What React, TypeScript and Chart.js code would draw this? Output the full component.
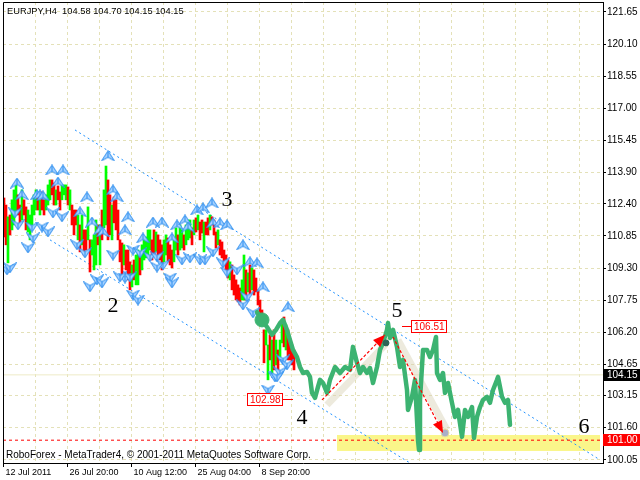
import React, { useEffect, useRef } from 'react';
import { Chart, registerables } from 'chart.js';

Chart.register(...registerables);

// ---------- texts ----------
const symbolTitle = 'EURJPY,H4  104.58 104.70 104.15 104.15';
const footerText = 'RoboForex - MetaTrader4, \u00A9 2001-2011 MetaQuotes Software Corp.';

// ---------- axes ----------
const xTickBars = [0, 64, 128, 192, 256];
const xTickLabels = ['12 Jul 2011', '26 Jul 20:00', '10 Aug 12:00', '25 Aug 04:00', '8 Sep 20:00'];
const xGridBars = [0, 32, 64, 96, 128, 160, 192, 224, 256, 288, 320, 352, 384, 416, 448, 480, 512, 544, 576];
const yTickValues = [121.65, 120.1, 118.55, 117.0, 115.45, 113.9, 112.4, 110.85, 109.3, 107.75, 106.2, 104.65, 103.15, 101.6, 100.05];

// ---------- H4 candles (one every 2 bars, starting at bar 1) ----------
const candleHigh = [
  112.68, 112.34, 111.77, 111.86, 112.59, 113.07, 113.31, 112.83, 112.34, 113.07,
  112.59, 112.25, 112.10, 111.86, 112.34, 112.83, 113.07, 112.83, 112.59, 112.97,
  112.59, 112.83, 113.31, 113.55, 113.55, 113.40, 113.07, 113.26, 112.97, 113.31,
  113.31, 113.31, 113.21, 113.07, 112.34, 112.10, 112.10, 111.86, 111.38, 111.86,
  111.14, 111.14, 112.25, 110.66, 110.66, 110.90, 111.62, 111.38, 111.38, 112.10,
  113.07, 114.22, 113.55, 112.83, 112.34, 112.73, 112.59, 112.10, 110.66, 110.51,
  110.42, 110.17, 110.17, 109.60, 109.45, 109.69, 109.93, 110.17, 110.08, 110.42,
  110.66, 110.80, 111.14, 111.14, 110.66, 111.14, 111.04, 110.90, 110.66, 110.42,
  110.66, 110.90, 110.75, 110.42, 110.17, 110.66, 111.24, 110.90, 111.38, 111.14,
  110.90, 111.38, 111.62, 111.62, 111.24, 111.62, 111.72, 111.86, 111.52, 111.62,
  111.52, 111.52, 111.72, 111.86, 111.77, 111.62, 111.04, 111.14, 110.66, 110.56,
  110.17, 109.93, 109.69, 109.60, 109.45, 108.97, 108.73, 108.49, 108.34, 108.73,
  109.93, 109.21, 109.07, 109.45, 109.31, 109.21, 108.82, 108.25, 107.76, 107.28,
  106.32, 106.32, 105.59, 106.08, 105.83, 106.32, 105.83, 105.35, 105.83, 106.65,
  106.94, 106.56, 106.32, 105.83, 105.59, 105.35,
];
const candleLow = [
  110.80, 110.42, 109.55, 110.90, 111.14, 111.38, 111.86, 111.86, 111.38, 111.62,
  111.86, 111.14, 111.04, 110.66, 111.38, 111.86, 112.10, 112.10, 111.86, 112.10,
  111.86, 112.10, 112.34, 112.59, 112.83, 112.34, 112.34, 112.59, 112.10, 112.59,
  112.83, 112.59, 112.34, 112.10, 111.38, 110.90, 111.38, 110.66, 110.08, 110.42,
  109.93, 110.17, 110.66, 109.11, 109.93, 109.21, 109.45, 110.42, 109.45, 110.66,
  111.24, 111.38, 110.66, 110.90, 110.66, 111.48, 111.14, 110.66, 109.60, 108.97,
  109.45, 109.21, 108.73, 108.25, 108.39, 108.73, 108.49, 108.49, 108.97, 109.21,
  109.69, 109.79, 109.93, 110.17, 109.69, 109.93, 110.08, 109.93, 109.69, 109.21,
  109.60, 109.93, 109.60, 109.45, 109.31, 109.60, 110.17, 109.93, 110.17, 110.27,
  110.17, 110.42, 110.66, 110.75, 110.42, 110.90, 111.04, 111.14, 110.66, 110.99,
  110.08, 110.90, 110.90, 111.14, 111.38, 110.90, 110.27, 110.42, 109.93, 109.79,
  109.45, 109.21, 108.82, 108.73, 108.25, 108.00, 107.76, 107.67, 107.52, 107.76,
  107.76, 107.76, 108.15, 108.00, 108.25, 108.00, 108.15, 107.52, 106.89, 106.56,
  104.73, 105.59, 103.91, 104.87, 104.15, 104.39, 104.63, 104.39, 104.87, 105.69,
  105.50, 105.35, 104.87, 104.87, 104.63, 104.39,
];
const candleUp = [
  0, 0, 1, 0, 1, 1, 1, 0, 0, 1,
  0, 0, 1, 1, 1, 1, 1, 0, 1, 0,
  0, 1, 1, 1, 0, 0, 1, 0, 0, 1,
  1, 1, 0, 1, 0, 0, 0, 1, 0, 1,
  0, 0, 1, 0, 1, 1, 1, 0, 1, 0,
  1, 1, 0, 0, 1, 0, 0, 0, 0, 0,
  1, 0, 0, 0, 1, 0, 1, 1, 0, 1,
  1, 1, 1, 1, 0, 0, 1, 0, 0, 0,
  1, 1, 0, 0, 0, 1, 1, 0, 1, 1,
  0, 1, 1, 1, 0, 1, 0, 1, 0, 0,
  1, 0, 0, 1, 0, 0, 0, 1, 0, 0,
  0, 0, 0, 1, 0, 0, 0, 0, 0, 1,
  1, 0, 1, 0, 1, 0, 0, 0, 0, 0,
  0, 1, 1, 0, 1, 0, 1, 0, 1, 1,
  0, 1, 0, 0, 0, 0,
];

// ---------- forecast path (green) ----------
const forecastBars = [
  254, 259, 264, 269, 273, 277, 280, 284, 287, 290, 294, 297, 300, 304, 307, 309, 312, 315, 317, 320,
  324, 327, 332, 337, 342, 347, 350, 354, 357, 360, 364, 367, 370, 374, 377, 380, 384, 385, 387, 389,
  390, 394, 397, 400, 404, 405, 409, 412, 415, 416, 417, 420, 424, 427, 430, 433, 434, 437, 440, 442,
  445, 449, 452, 455, 459, 462, 465, 469, 471, 474, 477, 480, 484, 487, 490, 494, 495, 499, 502, 505, 507,
];
const forecastPrices = [
  107.18, 106.80, 106.46, 106.08, 106.32, 106.65, 106.80, 106.32, 105.83, 105.35, 105.01, 104.53, 104.24, 104.29, 104.05, 103.28, 103.04, 103.57, 103.91, 103.76,
  103.28, 103.91, 104.53, 104.24, 104.53, 104.39, 105.50, 104.73, 104.24, 104.53, 104.24, 104.48, 103.76, 104.53, 105.35, 105.69, 106.32, 106.65, 105.93, 106.17,
  106.32, 105.50, 104.53, 104.87, 103.42, 102.46, 103.09, 103.91, 101.01, 100.53, 102.94, 105.35, 105.35, 105.01, 105.35, 105.98, 104.24, 103.91, 104.24, 103.28,
  103.76, 102.80, 102.12, 102.46, 101.16, 102.46, 102.12, 102.60, 101.11, 102.12, 102.60, 102.94, 103.09, 102.80, 103.42, 103.91, 104.05, 103.09, 102.80, 102.94, 101.74,
];

// ---------- fractals ----------
const upFractalBars = [14, 19, 34, 37, 40, 49, 60, 55, 84, 77, 89, 97, 105, 110, 114, 125, 100, 122, 150, 159, 174, 182, 140, 169, 185, 194, 200, 209, 210, 217, 224, 240, 247, 254, 260, 285];
const upFractalPrices = [113.40, 112.83, 112.83, 112.83, 112.78, 114.03, 114.03, 113.45, 112.73, 112.01, 111.52, 111.14, 114.71, 113.07, 112.73, 111.77, 111.04, 111.14, 111.52, 111.52, 111.38, 111.62, 110.75, 110.75, 111.28, 112.10, 112.20, 112.44, 111.48, 111.48, 111.38, 110.42, 109.60, 109.55, 108.39, 107.43];
const downFractalBars = [4, 7, 12, 15, 29, 39, 45, 30, 50, 59, 25, 74, 82, 87, 94, 110, 130, 137, 147, 154, 160, 179, 187, 197, 122, 127, 154, 167, 169, 99, 130, 135, 117, 202, 210, 220, 224, 234, 244, 240, 250, 280, 284, 272, 277, 265, 274];
const downFractalPrices = [109.21, 109.31, 111.96, 111.38, 111.28, 111.28, 111.04, 110.75, 111.96, 111.77, 110.27, 110.42, 110.03, 108.39, 108.73, 109.93, 110.17, 110.03, 109.84, 109.84, 109.45, 109.69, 109.79, 109.69, 108.82, 108.87, 109.35, 108.82, 108.58, 108.58, 108.00, 107.76, 108.87, 109.69, 110.08, 109.55, 109.11, 109.21, 107.91, 107.52, 107.14, 104.87, 104.63, 104.05, 104.29, 103.42, 104.05];

// ---------- channel ----------
const channelUpperBars = [72, 597];
const channelUpperPrices = [115.96, 100.05];
const channelLowerBars = [47, 407];
const channelLowerPrices = [110.66, 99.9];

// ---------- levels ----------
const bidPrice = 104.15;
const targetPrice = 101.0;
const targetZoneBars = [334, 597];
const targetZonePrices = [101.25, 100.48];

// ---------- wave labels ----------
const waveNames = ['2', '3', '4', '5', '6'];
const waveBars = [110, 224, 299, 394, 581];
const wavePrices = [107.47, 112.59, 102.07, 107.23, 101.64];

// ---------- red scenario arrows ----------
const arrowFromBars = [319, 390];
const arrowFromPrices = [102.94, 105.98];
const arrowToBars = [382, 440];
const arrowToPrices = [106.08, 101.35];
const shadowFromBars = [324, 395];
const shadowFromPrices = [102.7, 105.83];
const shadowToBars = [382, 444];
const shadowToPrices = [105.59, 101.5];
const pivotBar = 383;
const pivotPrice = 105.69;
const goalBar = 442;
const goalPrice = 101.35;
const blobBar = 259;
const blobPrice = 106.8;

// ---------- price tags ----------
const tagPrices = [102.98, 106.51];
const tagLineFromBars = [290, 399];
const tagBoxEdgeBars = [279, 408];
const tagSides = ['left', 'right'];

const SMALL_FONT = '10px "Liberation Sans", Arial, sans-serif';
const TITLE_FONT = '9.3px "Liberation Sans", Arial, sans-serif';
const GRID = '#E4E1B8';

function makeFractalIcon(up: boolean) {
  const c = document.createElement('canvas');
  c.width = 14;
  c.height = 11;
  const g = c.getContext('2d')!;
  if (!up) {
    g.translate(0, 11);
    g.scale(1, -1);
  }
  g.fillStyle = '#A3D0FF';
  g.strokeStyle = '#2F8FEF';
  g.lineWidth = 1;
  g.beginPath();
  g.moveTo(0.5, 10.5);
  g.lineTo(7, 0.5);
  g.lineTo(13.5, 10.5);
  g.lineTo(7, 7);
  g.closePath();
  g.fill();
  g.stroke();
  g.beginPath();
  g.moveTo(7, 1);
  g.lineTo(7, 7);
  g.stroke();
  return c;
}

function drawArrowHead(ctx: CanvasRenderingContext2D, fx: number, fy: number, tx: number, ty: number, len: number, hw: number) {
  const a = Math.atan2(ty - fy, tx - fx);
  const bx = tx - len * Math.cos(a);
  const by = ty - len * Math.sin(a);
  ctx.beginPath();
  ctx.moveTo(tx, ty);
  ctx.lineTo(bx + hw * Math.sin(a), by - hw * Math.cos(a));
  ctx.lineTo(bx - hw * Math.sin(a), by + hw * Math.cos(a));
  ctx.closePath();
  ctx.fill();
}

const overlayPlugin = {
  id: 'overlay',
  beforeDatasetsDraw(chart: any) {
    const { ctx, scales } = chart;
    const x = scales.x;
    const y = scales.y;
    ctx.save();
    ctx.fillStyle = '#FAF68A';
    const x0 = x.getPixelForValue(targetZoneBars[0]);
    const x1 = x.getPixelForValue(targetZoneBars[1]);
    const y0 = y.getPixelForValue(targetZonePrices[0]);
    const y1 = y.getPixelForValue(targetZonePrices[1]);
    ctx.fillRect(x0, y0, x1 - x0, y1 - y0);
    ctx.restore();
  },
  afterDatasetsDraw(chart: any) {
    const { ctx, scales } = chart;
    const x = scales.x;
    const y = scales.y;
    ctx.save();
    ctx.fillStyle = '#FF0000';
    for (let i = 0; i < arrowToBars.length; i++) {
      drawArrowHead(
        ctx,
        x.getPixelForValue(arrowFromBars[i]), y.getPixelForValue(arrowFromPrices[i]),
        x.getPixelForValue(arrowToBars[i]), y.getPixelForValue(arrowToPrices[i]),
        12, 5
      );
    }
    ctx.font = SMALL_FONT;
    ctx.textBaseline = 'middle';
    for (let i = 0; i < tagPrices.length; i++) {
      const py = Math.round(y.getPixelForValue(tagPrices[i])) + 0.5;
      const lx = x.getPixelForValue(tagLineFromBars[i]);
      const ex = x.getPixelForValue(tagBoxEdgeBars[i]);
      const txt = tagPrices[i].toFixed(2);
      const w = Math.ceil(ctx.measureText(txt).width) + 4;
      const h = 12;
      const bx = tagSides[i] === 'left' ? ex - w : ex;
      ctx.strokeStyle = '#FF0000';
      ctx.lineWidth = 1;
      ctx.beginPath();
      ctx.moveTo(lx, py);
      ctx.lineTo(ex, py);
      ctx.stroke();
      ctx.fillStyle = '#FFFFFF';
      ctx.fillRect(Math.round(bx) + 0.5, py - h / 2, w, h);
      ctx.strokeRect(Math.round(bx) + 0.5, py - h / 2, w, h);
      ctx.fillStyle = '#FF0000';
      ctx.textAlign = 'left';
      ctx.fillText(txt, Math.round(bx) + 3, py + 0.5);
    }
    ctx.fillStyle = '#000000';
    ctx.font = '22px "Liberation Serif", "Times New Roman", serif';
    ctx.textAlign = 'center';
    ctx.textBaseline = 'middle';
    for (let i = 0; i < waveNames.length; i++) {
      ctx.fillText(waveNames[i], x.getPixelForValue(waveBars[i]), y.getPixelForValue(wavePrices[i]));
    }
    ctx.restore();
  },
  afterDraw(chart: any) {
    const { ctx, chartArea, scales } = chart;
    const y = scales.y;
    ctx.save();
    ctx.strokeStyle = '#000000';
    ctx.lineWidth = 1;
    ctx.beginPath();
    ctx.moveTo(chartArea.left + 0.5, chartArea.bottom);
    ctx.lineTo(chartArea.left + 0.5, chartArea.top + 0.5);
    ctx.lineTo(chartArea.right, chartArea.top + 0.5);
    ctx.stroke();
    ctx.fillStyle = '#000000';
    ctx.textAlign = 'left';
    ctx.textBaseline = 'middle';
    ctx.font = TITLE_FONT;
    ctx.fillText(symbolTitle, chartArea.left + 4, chartArea.top + 9);
    ctx.font = SMALL_FONT;
    ctx.fillText(footerText, chartArea.left + 3, chartArea.bottom - 8);
    const boxes = [
      { v: bidPrice, bg: '#000000' },
      { v: targetPrice, bg: '#FF0000' },
    ];
    for (const b of boxes) {
      const py = Math.round(y.getPixelForValue(b.v));
      ctx.fillStyle = b.bg;
      ctx.fillRect(chartArea.right, py - 6, 640 - chartArea.right, 12);
      ctx.fillStyle = '#FFFFFF';
      ctx.fillText(b.v.toFixed(2), chartArea.right + 4, py + 0.5);
    }
    ctx.restore();
  },
};

export default function App() {
  const ref = useRef<HTMLCanvasElement>(null);
  useEffect(() => {
    document.body.style.margin = '0';
    const upIcon = makeFractalIcon(true);
    const downIcon = makeFractalIcon(false);

    const candleData = candleHigh.map((h, i) => ({ x: 1 + 2 * i, y: [candleLow[i], h] }));
    const candleColors = candleUp.map((u) => (u ? '#00FF00' : '#FF0000'));
    const pairs = (xs: number[], ys: number[]) => xs.map((v, i) => ({ x: v, y: ys[i] }));

    const datasets: any[] = [
      {
        type: 'line', data: pairs(channelUpperBars, channelUpperPrices), borderColor: '#1E90FF',
        borderWidth: 1, borderDash: [2, 3], pointRadius: 0, order: 20,
      },
      {
        type: 'line', data: pairs(channelLowerBars, channelLowerPrices), borderColor: '#1E90FF',
        borderWidth: 1, borderDash: [2, 3], pointRadius: 0, order: 20,
      },
      {
        type: 'line', data: [{ x: 0, y: bidPrice }, { x: 600, y: bidPrice }], borderColor: '#EEEBC8',
        borderWidth: 1, pointRadius: 0, order: 21,
      },
      {
        type: 'line', data: [{ x: 0, y: targetPrice }, { x: 600, y: targetPrice }], borderColor: '#FF0000',
        borderWidth: 1, borderDash: [3, 3], pointRadius: 0, order: 19,
      },
      {
        type: 'line', data: pairs([shadowFromBars[0], shadowToBars[0]], [shadowFromPrices[0], shadowToPrices[0]]),
        borderColor: 'rgba(214,208,180,0.45)', borderWidth: 7, pointRadius: 0, order: 18,
      },
      {
        type: 'line', data: pairs([shadowFromBars[1], shadowToBars[1]], [shadowFromPrices[1], shadowToPrices[1]]),
        borderColor: 'rgba(214,208,180,0.45)', borderWidth: 7, pointRadius: 0, order: 18,
      },
      {
        type: 'bar', data: candleData, backgroundColor: candleColors, barThickness: 2, grouped: false,
        borderWidth: 0, order: 15,
      },
      {
        type: 'scatter', data: pairs(upFractalBars, upFractalPrices), pointStyle: upIcon, pointRadius: 5, order: 12,
      },
      {
        type: 'scatter', data: pairs(downFractalBars, downFractalPrices), pointStyle: downIcon, pointRadius: 5, order: 12,
      },
      {
        type: 'line', data: pairs(forecastBars, forecastPrices), borderColor: '#3CB371', borderWidth: 4.5,
        pointRadius: 0, borderJoinStyle: 'round', borderCapStyle: 'round', order: 10,
      },
      {
        type: 'scatter', data: [{ x: blobBar, y: blobPrice }], pointRadius: 7, backgroundColor: '#3CB371',
        borderColor: '#3CB371', order: 9,
      },
      {
        type: 'line', data: pairs([arrowFromBars[0], arrowToBars[0]], [arrowFromPrices[0], arrowToPrices[0]]),
        borderColor: '#FF0000', borderWidth: 1.2, borderDash: [3, 2], pointRadius: 0, order: 5,
      },
      {
        type: 'line', data: pairs([arrowFromBars[1], arrowToBars[1]], [arrowFromPrices[1], arrowToPrices[1]]),
        borderColor: '#FF0000', borderWidth: 1.2, borderDash: [3, 2], pointRadius: 0, order: 5,
      },
      {
        type: 'scatter', data: [{ x: pivotBar, y: pivotPrice }], pointRadius: 3, backgroundColor: '#2E6456',
        borderColor: '#2E6456', order: 4,
      },
      {
        type: 'scatter', data: [{ x: goalBar, y: goalPrice }], pointRadius: 4, backgroundColor: '#A9AEC8',
        borderColor: '#E8E0A0', borderWidth: 1, order: 4,
      },
    ];

    const chart = new Chart(ref.current!, {
      type: 'bar',
      data: { datasets },
      options: {
        responsive: false,
        animation: false,
        devicePixelRatio: 1,
        layout: { autoPadding: false, padding: { left: 3, top: 2, right: 0, bottom: 0 } },
        plugins: { legend: { display: false }, tooltip: { enabled: false } },
        scales: {
          x: {
            type: 'linear',
            min: 0,
            max: 600,
            offset: false,
            position: 'bottom',
            afterBuildTicks: (s: any) => {
              s.ticks = xGridBars.map((v) => ({ value: v }));
            },
            afterFit: (s: any) => {
              s.height = 17;
              s.paddingLeft = 0;
              s.paddingRight = 0;
            },
            grid: {
              offset: false,
              color: (c: any) => (c.tick && c.tick.value === 0 ? 'rgba(0,0,0,0)' : GRID),
              tickLength: 4,
              tickColor: (c: any) => (c.tick && xTickBars.includes(c.tick.value) ? '#000000' : 'rgba(0,0,0,0)'),
              tickBorderDash: [],
            },
            border: { display: true, color: '#000000', width: 1, dash: [3, 3] },
            ticks: {
              autoSkip: false,
              maxRotation: 0,
              minRotation: 0,
              align: 'start',
              padding: 0,
              color: '#000000',
              font: { family: '"Liberation Sans", Arial, sans-serif', size: 9 },
              callback: (v: any) => {
                const i = xTickBars.indexOf(Number(v));
                return i >= 0 ? ' ' + xTickLabels[i] : '';
              },
            },
          },
          y: {
            type: 'linear',
            position: 'right',
            min: 99.9,
            max: 122.13,
            offset: false,
            afterBuildTicks: (s: any) => {
              s.ticks = yTickValues.map((v) => ({ value: v }));
            },
            afterFit: (s: any) => {
              s.width = 37;
              s.paddingTop = 0;
              s.paddingBottom = 0;
            },
            grid: { color: GRID, tickLength: 3, tickColor: '#000000', tickBorderDash: [] },
            border: { display: true, color: '#000000', width: 1, dash: [3, 3] },
            ticks: {
              autoSkip: false,
              padding: 1,
              color: '#000000',
              font: { family: '"Liberation Sans", Arial, sans-serif', size: 10 },
              callback: (v: any) => Number(v).toFixed(2),
            },
          },
        },
      } as any,
      plugins: [overlayPlugin],
    });
    return () => chart.destroy();
  }, []);

  return (
    <div style={{ width: 640, height: 480, position: 'relative', background: '#FFFFFF' }}>
      <canvas ref={ref} width={640} height={480} style={{ display: 'block' }} />
    </div>
  );
}
